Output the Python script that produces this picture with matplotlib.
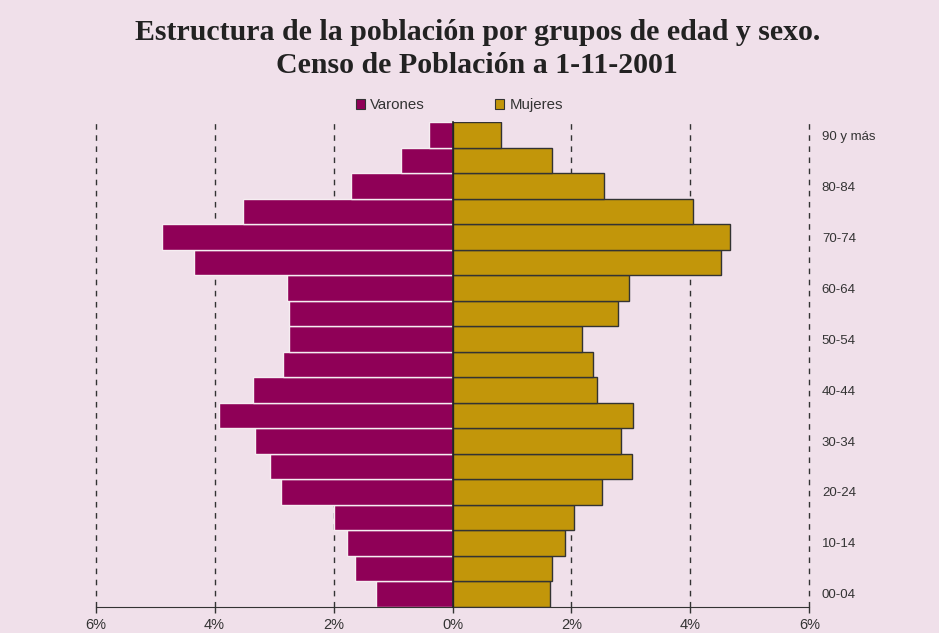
import numpy as np
import matplotlib
matplotlib.use("Agg")
import matplotlib.pyplot as plt
from matplotlib.patches import Patch

# grupos de edad, de abajo arriba
grupos = ["00-04", "05-09", "10-14", "15-19", "20-24", "25-29", "30-34",
          "35-39", "40-44", "45-49", "50-54", "55-59", "60-64", "65-69",
          "70-74", "75-79", "80-84", "85-89", "90 y más"]

# % sobre total de población
varones = [1.28, 1.64, 1.78, 2.00, 2.89, 3.07, 3.32, 3.93, 3.36, 2.85,
           2.75, 2.75, 2.78, 4.35, 4.89, 3.53, 1.71, 0.86, 0.39]
mujeres = [1.64, 1.68, 1.90, 2.04, 2.51, 3.01, 2.83, 3.04, 2.43, 2.36,
           2.18, 2.79, 2.97, 4.51, 4.66, 4.04, 2.54, 1.68, 0.82]

ticks_x = [-6, -4, -2, 0, 2, 4, 6]
ticks_x_lab = ["6%", "4%", "2%", "0%", "2%", "4%", "6%"]

fondo = "#F0E0EA"
c_var = "#8F0057"
c_muj = "#C2960A"
gris = "#333333"

plt.rcParams["font.family"] = ["Liberation Sans", "DejaVu Sans"]

fig = plt.figure(figsize=(9.39, 6.33), dpi=100, facecolor=fondo)
ax = fig.add_axes([0.1019, 0.0415, 0.76, 0.7653])
ax.set_facecolor(fondo)

y = np.arange(len(grupos))

# lineas de referencia discontinuas
for xv in ticks_x:
    if xv != 0:
        ax.axvline(xv, color=gris, lw=1, ls=(0, (4, 4)), zorder=0,
                   clip_on=False)

ax.barh(y, -np.array(varones), height=1.0, color=c_var,
        edgecolor="#F6EEF2", linewidth=1, zorder=2, label="Varones")
ax.barh(y, mujeres, height=1.0, color=c_muj,
        edgecolor=gris, linewidth=1, zorder=2, label="Mujeres")

ax.set_xlim(-6, 6)
ax.set_ylim(-0.5, len(grupos) - 0.5)

# eje x
ax.set_xticks(ticks_x)
ax.set_xticklabels(ticks_x_lab, fontsize=10.5, color=gris)
ax.tick_params(axis="x", length=4, width=1, color=gris, pad=4)
ax.spines["bottom"].set_color(gris)
ax.spines["top"].set_visible(False)
ax.spines["right"].set_visible(False)

# eje vertical en el cero
ax.spines["left"].set_position(("data", 0))
ax.spines["left"].set_color("#222222")
ax.spines["left"].set_linewidth(1.2)
ax.spines["left"].set_zorder(3)
ax.set_yticks(y)
ax.set_yticklabels([])
ax.tick_params(axis="y", length=3, width=1, color=gris)

# etiquetas de grupos a la derecha
ax2 = ax.twinx()
ax2.set_ylim(ax.get_ylim())
ax2.set_yticks(y[::2])
ax2.set_yticklabels(grupos[::2], fontsize=9.5, color=gris)
ax2.tick_params(axis="y", length=0, pad=9)
for s in ax2.spines.values():
    s.set_visible(False)

# leyenda
handles = [Patch(facecolor=c_var, edgecolor=gris, lw=0.8, label="Varones"),
           Patch(facecolor=c_muj, edgecolor=gris, lw=0.8, label="Mujeres")]
fig.legend(handles=handles, loc="center", bbox_to_anchor=(0.489, 0.834),
           ncol=2, frameon=False, fontsize=10.8, handlelength=0.6,
           handleheight=0.6, handletextpad=0.35, columnspacing=4.7,
           labelcolor=gris)

fig.text(0.509, 0.948, "Estructura de la población por grupos de edad y sexo.",
         ha="center", va="center", fontsize=21.5, fontweight="bold",
         family="Liberation Serif", color="#222222")
fig.text(0.508, 0.896, "Censo de Población a 1-11-2001",
         ha="center", va="center", fontsize=21.5, fontweight="bold",
         family="Liberation Serif", color="#222222")

fig.savefig("out.png", dpi=100, facecolor=fondo)
